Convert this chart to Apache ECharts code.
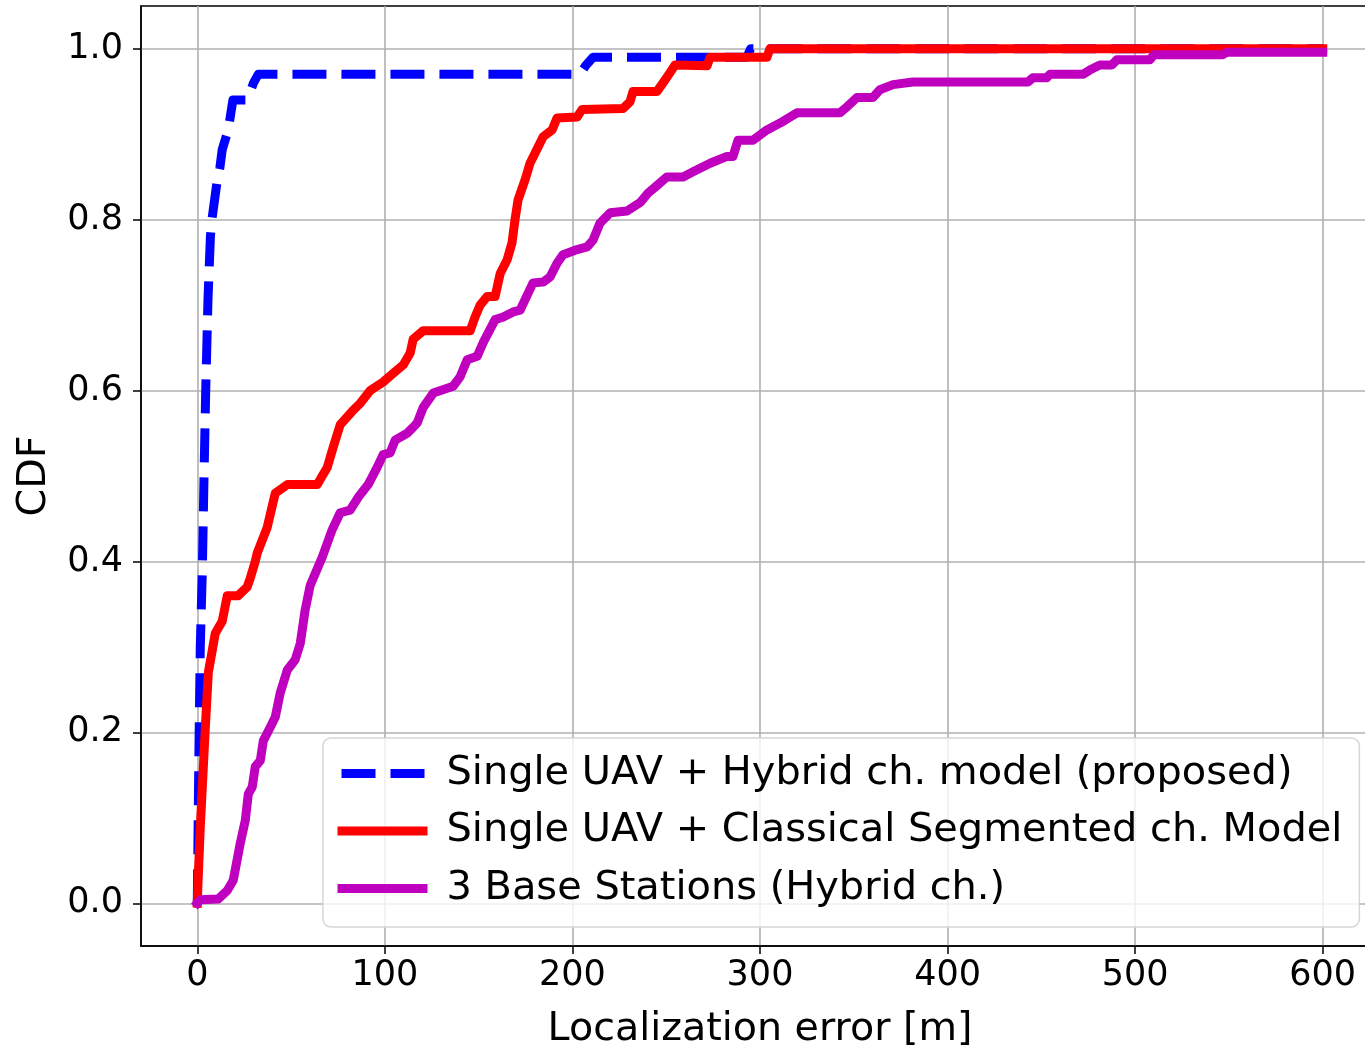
<!DOCTYPE html>
<html>
<head>
<meta charset="utf-8">
<script src="https://cdn.jsdelivr.net/npm/echarts@6/dist/echarts.min.js"></script>
<style>
html,body{margin:0;padding:0;background:#fff;}
#c{width:1365px;height:1045px;}
</style>
</head>
<body>
<div id="c"></div>
<script>
// ---- data ----
const seriesNames = [
  'Single UAV + Hybrid ch. model (proposed)',
  'Single UAV + Classical Segmented ch. Model',
  '3 Base Stations (Hybrid ch.)'
];
const xTicks = [0, 100, 200, 300, 400, 500, 600];
const yTicks = [0, 0.2, 0.4, 0.6, 0.8, 1.0];

const hybridCdf = [
  [0,0],[0.5,0.1],[1,0.2],[1.6,0.3],[2.7,0.39],[3.6,0.5],[4.5,0.6],[5.7,0.706],
  [7,0.78],[7.8,0.80],[10.7,0.847],[12,0.86],[13.3,0.882],[16.5,0.905],[19,0.94],
  [26.6,0.94],[30,0.96],[32.5,0.97],[204,0.97],[207,0.98],[211,0.99],[293,0.99],
  [295,1.0],[600,1.0]
];
const classicalCdf = [
  [0,0],[0.5,0.03],[1.6,0.089],[4.3,0.206],[5.9,0.27],[9.6,0.316],[13.3,0.33],
  [16,0.36],[21.8,0.36],[26.6,0.37],[28.2,0.38],[30.9,0.40],[32,0.41],[37.3,0.44],
  [41.6,0.48],[48,0.49],[64,0.49],[66.6,0.50],[69.3,0.51],[72.5,0.534],[76.2,0.56],
  [83.1,0.577],[86.9,0.585],[92.2,0.60],[99.1,0.61],[104.4,0.62],[109.8,0.63],
  [113.5,0.644],[115.1,0.66],[120.4,0.67],[145.5,0.67],[148.1,0.686],[150.8,0.70],
  [154.5,0.71],[158.8,0.71],[161.5,0.737],[165.2,0.753],[167.8,0.773],[169.4,0.80],
  [171,0.823],[174.8,0.847],[177.4,0.866],[180.1,0.878],[184.4,0.897],[189.2,0.905],
  [191.8,0.919],[202.5,0.92],[205.2,0.929],[227,0.93],[230.7,0.938],[232.3,0.95],
  [245.1,0.95],[248.3,0.96],[252,0.972],[254.7,0.981],[271.8,0.98],[273.4,0.99],
  [303.7,0.99],[305.3,1.0],[600,1.0]
];
const baseStationCdf = [
  [0,0],[1.6,0.004],[11.2,0.005],[16,0.015],[19.2,0.027],[22.9,0.07],[25.6,0.097],
  [27.2,0.128],[29.3,0.136],[30.9,0.16],[33.6,0.167],[35.2,0.19],[38.9,0.206],
  [41.6,0.218],[44.2,0.246],[48,0.273],[52.2,0.285],[54.9,0.304],[57.5,0.343],
  [60.2,0.372],[62.9,0.386],[66.6,0.405],[71.9,0.437],[76.2,0.457],[81.5,0.46],
  [85.8,0.475],[91.1,0.49],[95.9,0.51],[99.1,0.525],[102.8,0.527],[105.5,0.542],
  [111.9,0.55],[115.1,0.557],[117.2,0.562],[120.4,0.58],[125.8,0.597],[136.4,0.605],
  [140.1,0.616],[143.9,0.636],[149.2,0.64],[152.4,0.656],[158.8,0.683],[163.1,0.686],
  [168.4,0.692],[172.1,0.694],[176.4,0.714],[179,0.726],[184.4,0.727],[188.1,0.733],
  [191.8,0.749],[195,0.759],[202.5,0.765],[207.8,0.768],[211,0.776],[214.7,0.796],
  [220.1,0.808],[229.1,0.81],[236.1,0.82],[240.3,0.831],[245.1,0.84],[250.4,0.85],
  [259,0.85],[264.3,0.856],[273.4,0.866],[282.4,0.874],[285.6,0.874],[288.3,0.893],
  [296.3,0.893],[303.7,0.905],[310.7,0.913],[319.7,0.925],[342.6,0.925],[346.4,0.932],
  [351.7,0.943],[360.2,0.943],[363.9,0.952],[370.9,0.958],[381.5,0.961],[442.8,0.961],
  [445.5,0.966],[452.9,0.966],[454.5,0.97],[472.1,0.97],[475.8,0.975],[481.2,0.981],
  [487.6,0.981],[490.2,0.987],[507.8,0.987],[510,0.993],[546.7,0.993],[549,0.996],
  [600,0.996]
];

// ---- chart ----
const FONT = 'DejaVu Sans';
const chart = echarts.init(document.getElementById('c'), null, {renderer: 'canvas'});
const lw = 9;
chart.setOption({
  animation: false,
  backgroundColor: '#fff',
  textStyle: {fontFamily: FONT},
  grid: {
    left: 141, top: 6, width: 1238, height: 940,
    show: true, borderColor: '#000', borderWidth: 1.5, backgroundColor: 'transparent',
    containLabel: false, outerBoundsMode: 'none'
  },
  legend: {
    orient: 'vertical',
    left: 323, top: 738,
    padding: [13, 17, 16, 10],
    itemWidth: 90, itemHeight: 20, itemGap: 12.5,
    backgroundColor: 'rgba(255,255,255,0.8)',
    borderColor: '#d6d6d6', borderWidth: 1.5, borderRadius: 8,
    lineStyle: {width: lw, dashOffset: 45, cap: 'butt'},
    itemStyle: {opacity: 0, borderWidth: 0},
    textStyle: {fontFamily: FONT, fontSize: 39.9, color: '#000', lineHeight: 45, padding: [0,0,0,14]},
    data: seriesNames
  },
  xAxis: {
    type: 'value', min: -30, max: 630,
    name: 'Localization error [m]', nameLocation: 'middle', nameGap: 64,
    nameTextStyle: {fontFamily: FONT, fontSize: 39.6, color: '#000'},
    axisLine: {show: true, onZero: false, lineStyle: {color: '#000', width: 1.5}},
    axisTick: {show: true, inside: false, length: 8, lineStyle: {color: '#000', width: 1.5}, customValues: xTicks},
    axisLabel: {fontFamily: FONT, fontSize: 35, color: '#000', margin: 12, customValues: xTicks, formatter: v => String(v)},
    splitLine: {show: true, lineStyle: {color: '#b0b0b0', width: 1.6}}
  },
  yAxis: {
    type: 'value', min: -0.05, max: 1.05,
    name: 'CDF', nameLocation: 'middle', nameGap: 86, nameRotate: 90,
    nameTextStyle: {fontFamily: FONT, fontSize: 39.6, color: '#000'},
    axisLine: {show: true, onZero: false, lineStyle: {color: '#000', width: 1.5}},
    axisTick: {show: true, inside: false, length: 8, lineStyle: {color: '#000', width: 1.5}, customValues: yTicks},
    axisLabel: {fontFamily: FONT, fontSize: 35, color: '#000', margin: 18, customValues: yTicks, formatter: v => v.toFixed(1)},
    splitLine: {show: true, lineStyle: {color: '#b0b0b0', width: 1.6}}
  },
  series: [
    {name: seriesNames[0], type: 'line', data: hybridCdf, showSymbol: false, symbol: 'none',
     lineStyle: {color: '#0000ff', width: lw, type: [34, 15], cap: 'butt', join: 'round'}, itemStyle: {color: '#0000ff'}, z: 2},
    {name: seriesNames[1], type: 'line', data: classicalCdf, showSymbol: false, symbol: 'none',
     lineStyle: {color: '#ff0000', width: lw, cap: 'square', join: 'round'}, itemStyle: {color: '#ff0000'}, z: 3},
    {name: seriesNames[2], type: 'line', data: baseStationCdf, showSymbol: false, symbol: 'none',
     lineStyle: {color: '#bf00bf', width: lw, cap: 'square', join: 'round'}, itemStyle: {color: '#bf00bf'}, z: 4}
  ]
});
</script>
</body>
</html>
